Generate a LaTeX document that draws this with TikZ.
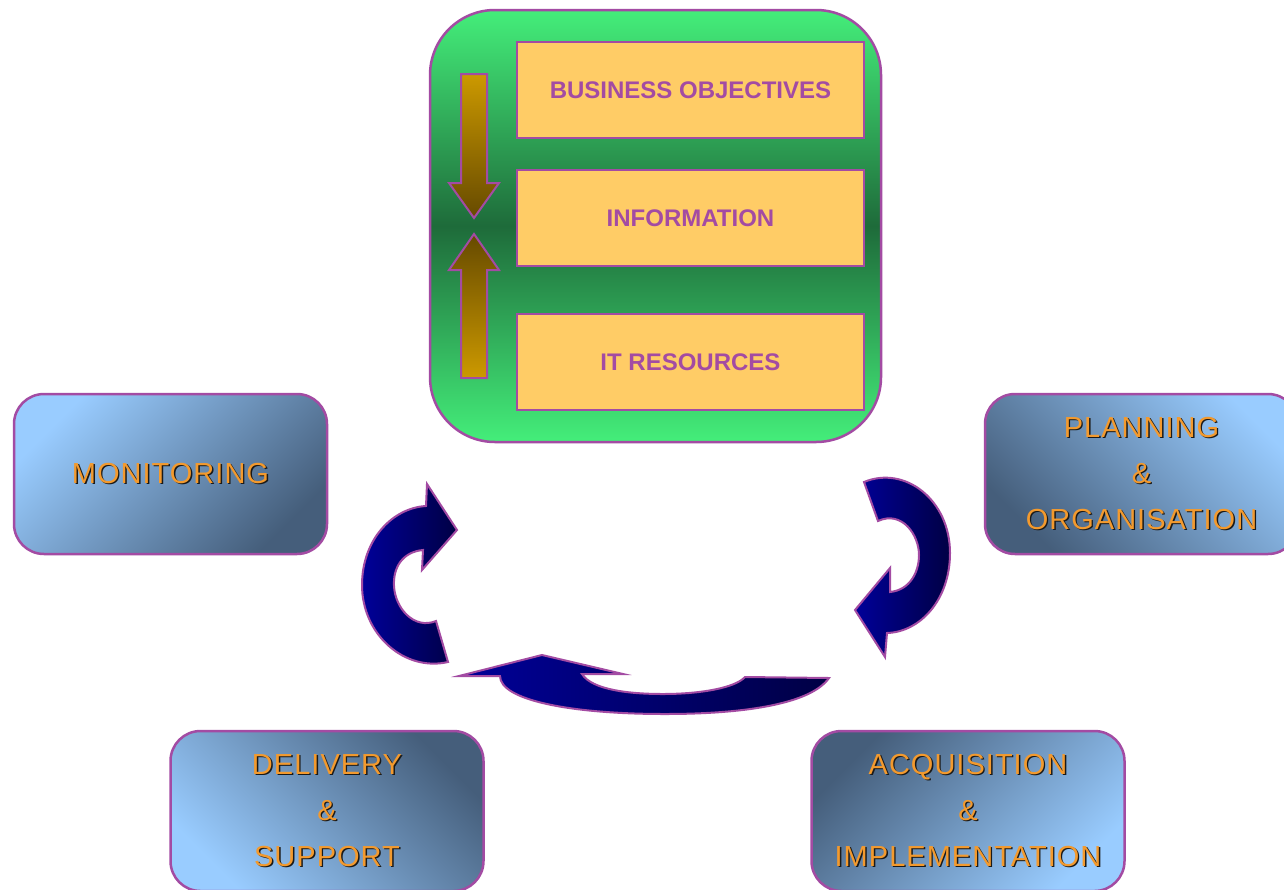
\documentclass[tikz,border=0pt]{standalone}
\usepackage{fontspec}
\setmainfont{Liberation Sans}
\usetikzlibrary{shadings}

\definecolor{purp}{HTML}{A34BA3}
\definecolor{greenL}{HTML}{44EE7A}
\definecolor{greenD}{HTML}{1E6B3A}
\definecolor{layerfill}{HTML}{FFCC66}
\definecolor{gold}{HTML}{CC9900}
\definecolor{brown}{HTML}{664A00}
\definecolor{navyL}{HTML}{000099}
\definecolor{navyR}{HTML}{000044}
\definecolor{blueL}{HTML}{99CCFF}
\definecolor{blueD}{HTML}{455E7B}
\definecolor{textor}{HTML}{F39A2E}
\definecolor{shadowc}{HTML}{1A1A1A}

% orange lettering with a small dark drop shadow
\newcommand\shadowword[1]{\makebox[0pt][l]{\kern1.4pt\raisebox{-1.4pt}{\color{shadowc}#1}}{\color{textor}#1}}

\tikzset{
  frame/.style={draw=purp, line width=2.5pt, rounded corners=65pt,
    minimum width=451pt, minimum height=432pt,
    top color=greenL, bottom color=greenL, middle color=greenD},
  layerbox/.style={draw=purp, fill=layerfill, line width=2.5pt,
    minimum width=347pt, minimum height=96pt, inner sep=0pt,
    text=purp, font=\fontsize{24}{28}\selectfont\bfseries},
  cornerbox/.style={draw=purp, line width=2.5pt, rounded corners=30pt,
    minimum width=313pt, minimum height=160pt, inner sep=0pt,
    align=center, font=\fontsize{29}{46}\selectfont\addfontfeatures{LetterSpace=3.5}},
  lightTL/.style={shading=axis, top color=blueL, bottom color=blueD, shading angle=45},
  lightTR/.style={shading=axis, top color=blueL, bottom color=blueD, shading angle=-45},
  darkTR/.style={shading=axis, top color=blueD, bottom color=blueL, shading angle=-45},
  darkTL/.style={shading=axis, top color=blueD, bottom color=blueL, shading angle=45},
  bigarrow/.style={draw=purp, line width=2pt, left color=navyL, right color=navyR},
  flowdown/.style={draw=purp, line width=2pt, top color=gold, bottom color=brown},
  flowup/.style={draw=purp, line width=2pt, top color=brown, bottom color=gold},
}

\begin{document}
\begin{tikzpicture}[x=1pt, y=-1pt]
\clip (0,0) rectangle (1284,889);
\fill[white] (0,0) rectangle (1284,889);

% central stack
\node[frame] (stack) at (655.5,226) {};
\node[layerbox] (obj) at (690.5,90) {BUSINESS OBJECTIVES};
\node[layerbox] (info) at (690.5,218) {INFORMATION};
\node[layerbox] (res) at (690.5,362) {IT RESOURCES};

% the two flows meeting at information
\path[flowdown] (461,74) -- (487,74) -- (487,183) -- (499,183) -- (474,218)
  -- (449,183) -- (461,183) -- cycle;
\path[flowup] (461,378) -- (487,378) -- (487,270) -- (499,270) -- (474,234)
  -- (449,270) -- (461,270) -- cycle;

% the four domains
\node[cornerbox, lightTL] (mon) at (170.5,474) {\shadowword{MONITORING}};
\node[cornerbox, lightTR] (plan) at (1141.5,474)
  {\shadowword{PLANNING}\\ \shadowword{\&}\\ \shadowword{ORGANISATION}};
\node[cornerbox, darkTR] (del) at (327,811)
  {\shadowword{DELIVERY}\\ \shadowword{\&}\\ \shadowword{SUPPORT}};
\node[cornerbox, darkTL] (acq) at (968,811)
  {\shadowword{ACQUISITION}\\ \shadowword{\&}\\ \shadowword{IMPLEMENTATION}};

% cycle arrows
\path[bigarrow] (864,482) .. controls (905,465) and (950,500) .. (950,553)
  .. controls (950,600) and (920,632) .. (887,633)
  -- (885,657) -- (855,610) -- (890,568) -- (890,592)
  .. controls (910,590) and (919,572) .. (919,555)
  .. controls (919,535) and (902,510) .. (878,521) -- cycle;

\path[bigarrow] (500,676) -- (459,676) -- (542,655) -- (623,674) -- (582,674)
  .. controls (592,690) and (630,694) .. (663,694)
  .. controls (700,694) and (735,688) .. (745,677)
  -- (829,678)
  .. controls (810,705) and (740,714) .. (665,714)
  .. controls (570,714) and (500,700) .. (500,676) -- cycle;

\path[bigarrow] (426,506) -- (427,484) -- (457,530) -- (422,570) -- (423,550)
  .. controls (402,552) and (393,568) .. (394,586)
  .. controls (395,608) and (414,630) .. (436,621)
  -- (448,662)
  .. controls (405,672) and (362,635) .. (362,585)
  .. controls (362,540) and (392,508) .. (426,506) -- cycle;
\end{tikzpicture}
\end{document}
